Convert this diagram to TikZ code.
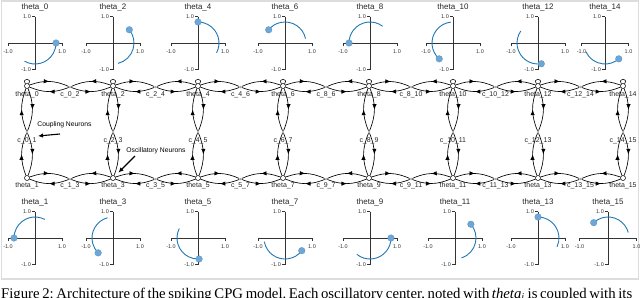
\documentclass[tikz,border=0pt]{standalone}
\usepackage{fontspec}
\setmainfont{Liberation Serif}
\setsansfont{Liberation Sans}
\usetikzlibrary{arrows.meta,decorations.markings,calc}
\definecolor{pblue}{HTML}{1F77B4}
\definecolor{pdotc}{HTML}{6FA6D6}
\definecolor{axc}{HTML}{333333}
\definecolor{framec}{HTML}{DDDDDD}
\tikzset{
 fwd/.style={draw=black, line width=0.65bp, postaction={decorate}, decoration={markings, mark=at position 0.5 with {\arrow{Latex[length=5.5bp,width=4.3bp]}}}},
 rev/.style={draw=black, line width=0.65bp, postaction={decorate}, decoration={markings, mark=at position 0.5 with {\arrowreversed{Latex[length=5.5bp,width=4.3bp]}}}},
 tnode/.style={circle, draw=black, fill=white, line width=0.5bp, minimum size=5bp, inner sep=0pt},
 cnode/.style={circle, fill=gray!70, minimum size=2.5bp, inner sep=0pt},
 glab/.style={font=\sffamily\fontsize{7}{8}\selectfont, text=black!85, inner sep=0pt},
 ptitle/.style={font=\sffamily\fontsize{8}{9}\selectfont, text=black!85, inner sep=0pt},
 ticklab/.style={font=\sffamily\fontsize{5.5}{6}\selectfont, text=black!80, inner sep=0pt},
 axline/.style={draw=axc, line width=0.7bp},
 parc/.style={draw=pblue, line width=0.9bp},
 pdot/.style={fill=pdotc, draw=pblue!80, line width=0.3bp},
 ann/.style={draw=black, line width=1.1bp, -{Latex[length=5bp,width=4.5bp]}},
 anntext/.style={font=\sffamily\fontsize{6.8}{8}\selectfont, inner sep=0pt},
 loopline/.style={draw=black, line width=0.6bp},
}
\begin{document}
\begin{tikzpicture}[x=1bp,y=1bp]
\useasboundingbox (0,0) rectangle (640,-297);
\clip (0,0) rectangle (640,-297);
% frame
\draw[framec, line width=1.2bp] (1.5,-1) rectangle (638.5,-279);

% ---------- plots ----------
\foreach \nm/\cx/\cy/\hw/\a/\b in {
  0/35/43/27/-120/0, 2/113/43/27/-76/39, 4/198/43/27/-28/90, 6/285/43/27/12/141,
  8/370/43/27/53/180, 10/453/43/27/96/229, 12/538/43/27/145/279, 14/605/43/23.5/204/311,
  1/35/238/27/62/180, 3/113/238/27/105/225, 5/198/238/27/153/273, 7/285/238/27/190/323,
  9/370/238/27/231/360, 11/455/238/27/-72/41, 13/538/238/27/-25/90, 15/608/238/28.5/15/133}{
  \coordinate (P\nm) at (\cx,-\cy);
  \draw[axline] (P\nm) ++(-\hw,0) -- ++(2*\hw,0);
  \draw[axline] (P\nm) ++(0,26.5) -- ++(0,-53);
  \draw[axline] (P\nm) ++(-\hw,0) -- ++(0,-3);
  \draw[axline] (P\nm) ++(\hw,0) -- ++(0,-3);
  \draw[axline] (P\nm) ++(0,26.5) -- ++(-3,0);
  \draw[axline] (P\nm) ++(0,-26.5) -- ++(-3,0);
  \node[ticklab] (xa\nm) at ($(P\nm)+(-\hw,-8.5)$) {-1.0};
  \node[ticklab] (xb\nm) at ($(P\nm)+(\hw,-8.5)$) {1.0};
  \node[ticklab, anchor=east] (ya\nm) at ($(P\nm)+(-4,26.5)$) {1.0};
  \node[ticklab, anchor=east] (yb\nm) at ($(P\nm)+(-4,-26.5)$) {-1.0};
  \node[ptitle] (ti\nm) at ($(P\nm)+(0,35.5)$) {theta\_\nm};
  \draw[parc] (P\nm) ++(\a:21) arc[start angle=\a, end angle=\b, radius=21];
  \fill[pdot] (P\nm) ++(\b:21) circle (3.3);
}

% ---------- graph nodes ----------
\foreach \i/\x in {0/27,1/113,2/198,3/283,4/369,5/453,6/538,7/623} {
  \pgfmathtruncatemacro\ta{2*\i}
  \pgfmathtruncatemacro\tb{2*\i+1}
  \node[tnode] (t\ta) at (\x,-86) {};
  \node[tnode] (t\tb) at (\x,-178) {};
  \node[cnode] (cv\i) at (\x,-132) {};
  \node[glab] (lt\ta) at (\x,-95) {theta\_\ta};
  \node[glab] (lt\tb) at (\x,-186) {theta\_\tb};
  \node[glab] (lcv\i) at (\x,-141) {c\_\ta\_\tb};
}
\foreach \i/\x/\lt/\lb in {0/70/0\_2/1\_3, 1/155.5/2\_4/3\_5, 2/240.5/4\_6/5\_7,
  3/326/8\_6/9\_7, 4/411/8\_10/9\_11, 5/495.5/10\_12/11\_13, 6/580.5/12\_14/13\_15} {
  \node[cnode] (ch\i) at (\x,-87) {};
  \node[cnode] (cb\i) at (\x,-179) {};
  \node[glab] (lch\i) at (\x,-95) {c\_\lt};
  \node[glab] (lcb\i) at (\x,-186) {c\_\lb};
}

% ---------- graph edges ----------
\foreach \i in {0,...,6} {
  \pgfmathtruncatemacro\ta{2*\i}
  \pgfmathtruncatemacro\tc{2*\i+2}
  \pgfmathtruncatemacro\tb{2*\i+1}
  \pgfmathtruncatemacro\td{2*\i+3}
  \draw[fwd] (t\ta) to[bend left=22] (ch\i);
  \draw[rev] (t\ta) to[bend right=22] (ch\i);
  \draw[rev] (ch\i) to[bend left=22] (t\tc);
  \draw[fwd] (ch\i) to[bend right=22] (t\tc);
  \draw[fwd] (t\tb) to[bend left=22] (cb\i);
  \draw[rev] (t\tb) to[bend right=22] (cb\i);
  \draw[rev] (cb\i) to[bend left=22] (t\td);
  \draw[fwd] (cb\i) to[bend right=22] (t\td);
}
\foreach \i in {0,...,7} {
  \pgfmathtruncatemacro\ta{2*\i}
  \pgfmathtruncatemacro\tb{2*\i+1}
  \draw[fwd] (t\ta) to[bend left=22] (cv\i);
  \draw[rev] (t\ta) to[bend right=22] (cv\i);
  \draw[fwd] (cv\i) to[bend left=22] (t\tb);
  \draw[rev] (cv\i) to[bend right=22] (t\tb);
  \draw[loopline] (t\ta.125) to[out=125,in=55,looseness=6] (t\ta.55);
}

% ---------- annotations ----------
\node[anntext] (coup) at (64.5,-125) {Coupling Neurons};
\coordinate (coupA) at (60,-134);
\coordinate (coupB) at (38,-136);
\draw[ann] (coupA) -- (coupB);
\node[anntext] (osc) at (156,-151) {Oscillatory Neurons};
\coordinate (oscA) at (135,-156);
\draw[ann, shorten >=5bp] (oscA) -- (t3);

% ---------- caption ----------
\node[anchor=base west, inner sep=0pt] (cap) at (1,-298)
  {\scalebox{1.48}{\fontsize{10}{12}\selectfont\frenchspacing\makebox[428pt][s]{Figure 2: Architecture of the spiking CPG model. Each oscillatory center, noted with \textit{theta}\textsubscript{\textit{i}} is coupled with its}}};
\end{tikzpicture}
\end{document}
